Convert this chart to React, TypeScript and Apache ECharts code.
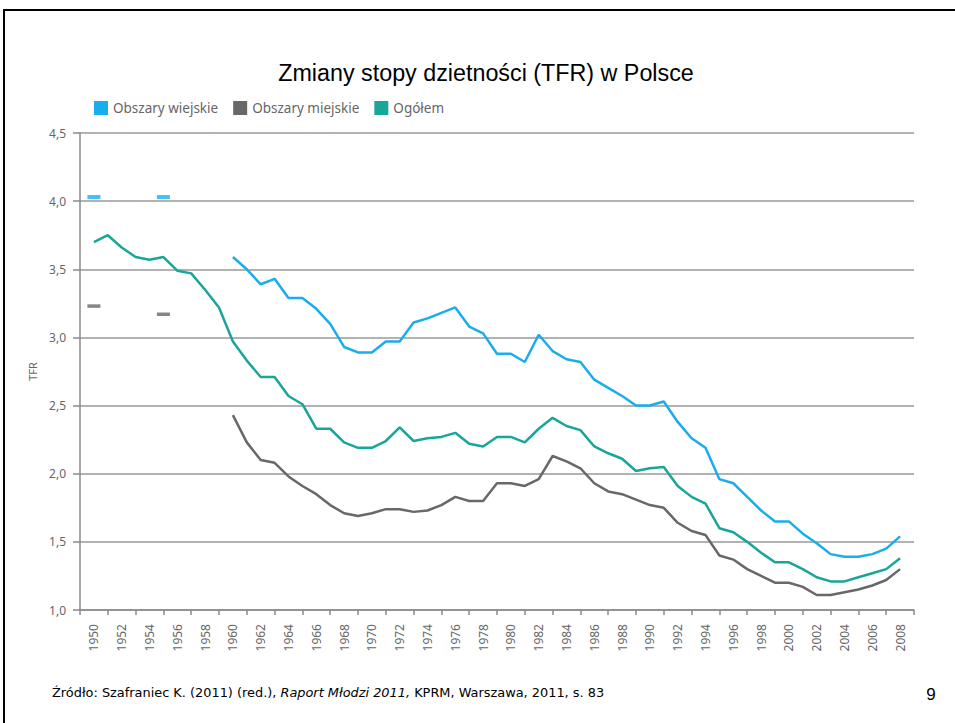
import React, { useEffect, useRef } from "react";
import * as echarts from "echarts";

const years = [
  1950, 1951, 1952, 1953, 1954, 1955, 1956, 1957, 1958, 1959,
  1960, 1961, 1962, 1963, 1964, 1965, 1966, 1967, 1968, 1969,
  1970, 1971, 1972, 1973, 1974, 1975, 1976, 1977, 1978, 1979,
  1980, 1981, 1982, 1983, 1984, 1985, 1986, 1987, 1988, 1989,
  1990, 1991, 1992, 1993, 1994, 1995, 1996, 1997, 1998, 1999,
  2000, 2001, 2002, 2003, 2004, 2005, 2006, 2007, 2008,
];

const tickLabels = [
  "1950", "1952", "1954", "1956", "1958", "1960", "1962", "1964", "1966", "1968",
  "1970", "1972", "1974", "1976", "1978", "1980", "1982", "1984", "1986", "1988",
  "1990", "1992", "1994", "1996", "1998", "2000", "2002", "2004", "2006", "2008",
];

// Ogółem 1950-2008
const total = [
  3.70, 3.75, 3.66, 3.59, 3.57, 3.59, 3.49, 3.47, 3.35, 3.22,
  2.97, 2.83, 2.71, 2.71, 2.57, 2.51, 2.33, 2.33, 2.23, 2.19,
  2.19, 2.24, 2.34, 2.24, 2.26, 2.27, 2.30, 2.22, 2.20, 2.27,
  2.27, 2.23, 2.33, 2.41, 2.35, 2.32, 2.20, 2.15, 2.11, 2.02,
  2.04, 2.05, 1.91, 1.83, 1.78, 1.60, 1.57, 1.50, 1.42, 1.35,
  1.35, 1.30, 1.24, 1.21, 1.21, 1.24, 1.27, 1.30, 1.38,
];

// Obszary wiejskie 1960-2008
const rural = [
  3.59, 3.50, 3.39, 3.43, 3.29, 3.29, 3.21, 3.10, 2.93, 2.89,
  2.89, 2.97, 2.97, 3.11, 3.14, 3.18, 3.22, 3.08, 3.03, 2.88,
  2.88, 2.82, 3.02, 2.90, 2.84, 2.82, 2.69, 2.63, 2.57, 2.50,
  2.50, 2.53, 2.38, 2.26, 2.19, 1.96, 1.93, 1.83, 1.73, 1.65,
  1.65, 1.56, 1.49, 1.41, 1.39, 1.39, 1.41, 1.45, 1.54,
];

// Obszary miejskie 1960-2008
const urban = [
  2.43, 2.23, 2.10, 2.08, 1.98, 1.91, 1.85, 1.77, 1.71, 1.69,
  1.71, 1.74, 1.74, 1.72, 1.73, 1.77, 1.83, 1.80, 1.80, 1.93,
  1.93, 1.91, 1.96, 2.13, 2.09, 2.04, 1.93, 1.87, 1.85, 1.81,
  1.77, 1.75, 1.64, 1.58, 1.55, 1.40, 1.37, 1.30, 1.25, 1.20,
  1.20, 1.17, 1.11, 1.11, 1.13, 1.15, 1.18, 1.22, 1.30,
];

const earlyYears = [1950, 1955];
const ruralEarly = [4.03, 4.03];
const urbanEarly = [3.23, 3.17];

const C_RURAL = "#1AADEE";
const C_URBAN = "#686868";
const C_TOTAL = "#17A699";

export default function App() {
  const ref = useRef<HTMLDivElement>(null);

  useEffect(() => {
    if (!ref.current) return;
    const chart = echarts.init(ref.current, null, { renderer: "svg" });

    const startIdx = years.indexOf(1960);
    const totalData = years.map((y, i) => [y, total[i]]);
    const ruralData = rural.map((v, i) => [years[startIdx + i], v]);
    const urbanData = urban.map((v, i) => [years[startIdx + i], v]);
    const ruralEarlyData = earlyYears.map((y, i) => [y, ruralEarly[i]]);
    const urbanEarlyData = earlyYears.map((y, i) => [y, urbanEarly[i]]);

    const option: any = {
      animation: false,
      backgroundColor: "#ffffff",
      graphic: [
        {
          type: "rect",
          shape: { x: 4, y: 10, width: 1200, height: 1000 },
          style: { fill: "none", stroke: "#000", lineWidth: 2 },
          z: 100,
        },
        {
          type: "text",
          x: 486,
          y: 73,
          style: {
            text: "Zmiany stopy dzietności (TFR) w Polsce",
            font: "23.3px 'Liberation Sans', Arial, sans-serif",
            fill: "#000",
            textAlign: "center",
            textVerticalAlign: "middle",
          },
        },
        {
          type: "text",
          x: 52,
          y: 692,
          style: {
            text: "{n|Źródło: Szafraniec K. (2011) (red.), }{i|Raport Młodzi 2011,}{n| KPRM, Warszawa, 2011, s. 83}",
            textVerticalAlign: "middle",
            rich: {
              n: { fontFamily: "'DejaVu Sans', sans-serif", fontSize: 12.9, color: "#000" },
              i: { fontFamily: "'DejaVu Sans', sans-serif", fontSize: 12.9, fontStyle: "italic", color: "#000" },
            },
          },
        },
        {
          type: "text",
          x: 931,
          y: 694,
          style: {
            text: "9",
            font: "17px 'Liberation Sans', Arial, sans-serif",
            fill: "#000",
            textAlign: "center",
            textVerticalAlign: "middle",
          },
        },
      ],
      legend: {
        left: 89,
        top: 96,
        itemWidth: 14,
        itemHeight: 14,
        itemGap: 15,
        icon: "rect",
        data: ["Obszary wiejskie", "Obszary miejskie", "Ogółem"],
        textStyle: { color: "#666", fontSize: 13.5, fontFamily: "'Noto Sans', sans-serif" },
      },
      grid: { left: 80, right: 41, top: 133, bottom: 113, containLabel: false },
      xAxis: [
        {
          type: "value",
          min: 1949,
          max: 2009,
          interval: 2,
          axisLine: { show: true, lineStyle: { color: "#8a8a8a", width: 1.5 } },
          axisTick: { show: true, length: 5, lineStyle: { color: "#8a8a8a", width: 1.5 } },
          axisLabel: { show: false },
          splitLine: { show: false },
        },
        {
          type: "category",
          position: "bottom",
          data: tickLabels,
          boundaryGap: true,
          axisLine: { show: false },
          axisTick: { show: false },
          axisLabel: {
            rotate: 90,
            margin: 14,
            color: "#666",
            fontSize: 12,
            fontFamily: "'Noto Sans', sans-serif",
            interval: 0,
          },
        },
      ],
      yAxis: {
        type: "value",
        min: 1,
        max: 4.5,
        interval: 0.5,
        name: "TFR",
        nameLocation: "middle",
        nameGap: 40,
        nameRotate: 90,
        nameTextStyle: { color: "#666", fontSize: 11, fontFamily: "'Noto Sans', sans-serif" },
        axisLine: { show: true, lineStyle: { color: "#8a8a8a", width: 1.5 } },
        axisTick: { show: true, length: 7, lineStyle: { color: "#8a8a8a", width: 1.5 } },
        axisLabel: {
          color: "#666",
          fontSize: 12,
          margin: 14,
          fontFamily: "'Noto Sans', sans-serif",
          formatter: (v: number) => v.toFixed(1).replace(".", ","),
        },
        splitLine: { show: true, lineStyle: { color: "#999", width: 1.5 } },
      },
      series: [
        {
          name: "Obszary wiejskie",
          type: "line",
          xAxisIndex: 0,
          data: ruralData,
          showSymbol: false,
          symbol: "none",
          lineStyle: { color: C_RURAL, width: 2.5 },
          itemStyle: { color: C_RURAL },
        },
        {
          name: "Obszary miejskie",
          type: "line",
          xAxisIndex: 0,
          data: urbanData,
          showSymbol: false,
          symbol: "none",
          lineStyle: { color: C_URBAN, width: 2.5 },
          itemStyle: { color: C_URBAN },
        },
        {
          name: "Ogółem",
          type: "line",
          xAxisIndex: 0,
          data: totalData,
          showSymbol: false,
          symbol: "none",
          lineStyle: { color: C_TOTAL, width: 2.5 },
          itemStyle: { color: C_TOTAL },
        },
        {
          name: "wiejskie-early",
          type: "scatter",
          xAxisIndex: 0,
          data: ruralEarlyData,
          symbol: "rect",
          symbolSize: [13, 4],
          itemStyle: { color: C_RURAL },
        },
        {
          name: "miejskie-early",
          type: "scatter",
          xAxisIndex: 0,
          data: urbanEarlyData,
          symbol: "rect",
          symbolSize: [13, 3.5],
          itemStyle: { color: C_URBAN },
        },
      ],
    };

    chart.setOption(option);
    return () => chart.dispose();
  }, []);

  return (
    <div
      ref={ref}
      style={{ position: "absolute", left: 0, top: 0, width: 955, height: 723 }}
    />
  );
}
